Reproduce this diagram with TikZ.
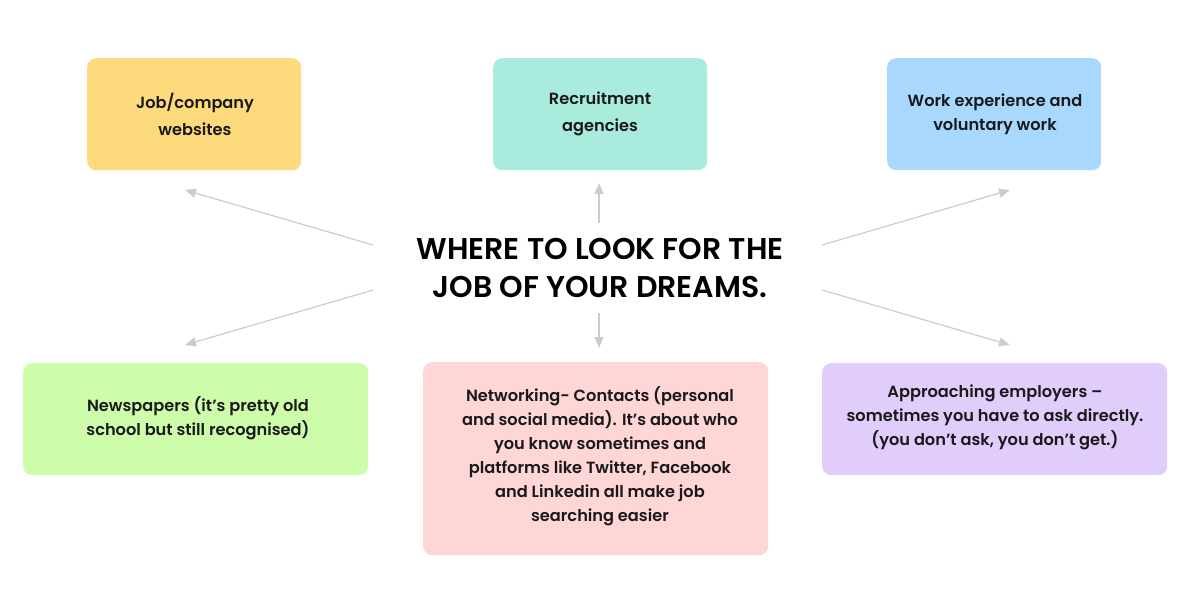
\documentclass[tikz,border=0pt]{standalone}
\usepackage{fontspec}
\setmainfont{Poppins}[BoldFont={Poppins SemiBold}]
\newfontfamily\titlefont{Poppins SemiBold}
\usetikzlibrary{arrows.meta}
\definecolor{cyellow}{HTML}{FDDA7B}
\definecolor{cteal}{HTML}{A9EBDD}
\definecolor{cblue}{HTML}{A9D8FE}
\definecolor{cgreen}{HTML}{CDFDAB}
\definecolor{cpink}{HTML}{FED6D6}
\definecolor{cpurple}{HTML}{E0CDFA}
\definecolor{carrow}{HTML}{CCCCCC}
\tikzset{
  card/.style={rounded corners=9pt, draw=none, inner sep=0pt, anchor=north west},
  cardtext/.style={align=center, font=\bfseries\fontsize{16.2}{24}\selectfont, text=black!90},
  conn/.style={draw=carrow, line width=1.2pt, -{Triangle[length=11pt,width=9pt]}}
}
\begin{document}
\begin{tikzpicture}[x=1pt,y=-1pt]
\useasboundingbox (0,0) rectangle (1200,607);
% boxes
\node[card, fill=cyellow, minimum width=214pt, minimum height=112pt] (b1) at (87,58) {};
\node[card, fill=cteal, minimum width=214pt, minimum height=112pt] (b2) at (493,58) {};
\node[card, fill=cblue, minimum width=214pt, minimum height=112pt] (b3) at (887,58) {};
\node[card, fill=cgreen, minimum width=345pt, minimum height=112pt] (b4) at (23,363) {};
\node[card, fill=cpink, minimum width=345pt, minimum height=193pt] (b5) at (423,362) {};
\node[card, fill=cpurple, minimum width=345pt, minimum height=112pt] (b6) at (822,363) {};
% texts
\node[cardtext, font=\bfseries\fontsize{16.2}{27}\selectfont] (t1) at (195,114) {Job/company\\websites};
\node[cardtext, font=\bfseries\fontsize{16.2}{27}\selectfont] (t2) at (600,114) {Recruitment\\agencies};
\node[cardtext] (t3) at (995,114) {Work experience and\\voluntary work};
\node[cardtext] (t4) at (198,418) {Newspapers (it’s pretty old\\school but still recognised)};
\node[cardtext] (t5) at (600,456) {Networking- Contacts (personal\\and social media). It’s about who\\you know sometimes and\\platforms like Twitter, Facebook\\and Linkedin all make job\\searching easier};
\node[cardtext] (t6) at (995,417) {Approaching employers –\\sometimes you have to ask directly.\\(you don’t ask, you don’t get.)};
% title
\node[align=center, font=\titlefont\fontsize{30}{38}\selectfont] (title) at (600,268) {WHERE TO LOOK FOR THE\\JOB OF YOUR DREAMS.};
% arrow ends
\coordinate (s1) at (373,245); \coordinate (e1) at (185,190);
\coordinate (s2) at (599,223); \coordinate (e2) at (599,183);
\coordinate (s3) at (822,245); \coordinate (e3) at (1010,190);
\coordinate (s4) at (373,290); \coordinate (e4) at (185,345);
\coordinate (s5) at (599,313); \coordinate (e5) at (599,348);
\coordinate (s6) at (822,290); \coordinate (e6) at (1010,345);
\foreach \i in {1,...,6} { \draw[conn] (s\i) -- (e\i); }
\end{tikzpicture}
\end{document}
